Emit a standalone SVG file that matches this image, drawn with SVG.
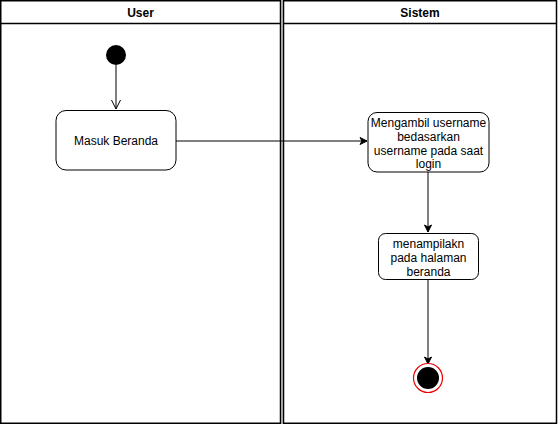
<svg xmlns="http://www.w3.org/2000/svg" width="558" height="424" viewBox="0 0 558 424">
<defs>
<style>
.lane{fill:#fff;stroke:#000;stroke-width:1.5}
.hd{font-family:"Liberation Sans",Arial,sans-serif;font-size:12px;font-weight:bold;fill:#000;text-anchor:middle}
.act{fill:#fff;stroke:#000;stroke-width:1}
.t{font-family:"Liberation Sans",Arial,sans-serif;font-size:12px;fill:#000;text-anchor:middle}
.edge{fill:none;stroke:#000;stroke-width:1}
</style>
<marker id="fa" markerWidth="10" markerHeight="10" refX="8" refY="5" orient="auto" markerUnits="userSpaceOnUse">
<path d="M1,1.5 L8,5 L1,8.5 L3,5 Z" fill="#000" stroke="#000" stroke-width="1"/>
</marker>
<marker id="oa" markerWidth="12" markerHeight="12" refX="10" refY="6" orient="auto" markerUnits="userSpaceOnUse">
<path d="M1,1.5 L10,6 L1,10.5" fill="none" stroke="#000" stroke-width="1"/>
</marker>
</defs>
<rect width="558" height="424" fill="#fff"/>
<g id="lane-user">
<rect class="lane" x="0.75" y="0.75" width="279.75" height="422.5"/>
<line x1="0.75" y1="23.5" x2="280.5" y2="23.5" stroke="#000" stroke-width="1.5"/>
<text class="hd" x="140.5" y="16.5">User</text>
</g>
<g id="lane-sistem">
<rect class="lane" x="283.5" y="0.75" width="273" height="422.5"/>
<line x1="283.5" y1="23.5" x2="556.5" y2="23.5" stroke="#000" stroke-width="1.5"/>
<text class="hd" x="420" y="16.5">Sistem</text>
</g>
<line x1="282" y1="0" x2="282" y2="424" stroke="#888" stroke-width="1"/>
<g id="connectors">
<line class="edge" x1="116" y1="65" x2="116" y2="109" stroke="#555" marker-end="url(#oa)"/>
<line class="edge" x1="176" y1="141" x2="367" y2="141" marker-end="url(#fa)"/>
<line class="edge" x1="428" y1="172" x2="428" y2="232" marker-end="url(#fa)"/>
<line class="edge" x1="428" y1="280" x2="428" y2="364" marker-end="url(#fa)"/>
</g>
<g id="start">
<circle cx="116" cy="55" r="10" fill="#000"/>
</g>
<g id="masuk-beranda">
<rect class="act" x="56" y="110.5" width="120" height="59.5" rx="10"/>
<text class="t" x="116" y="144.5">Masuk Beranda</text>
</g>
<g id="mengambil">
<rect class="act" x="368" y="112.5" width="121" height="59.5" rx="9"/>
<text class="t" x="428.5" y="127">Mengambil username</text>
<text class="t" x="428.5" y="140.5">bedasarkan</text>
<text class="t" x="428.5" y="154.5">username pada saat</text>
<text class="t" x="428.5" y="168">login</text>
</g>
<g id="menampilkan">
<rect class="act" x="378.5" y="233.5" width="100" height="46" rx="7"/>
<text class="t" x="428.5" y="247.5">menampilakn</text>
<text class="t" x="428.5" y="261.5">pada halaman</text>
<text class="t" x="428.5" y="276">beranda</text>
</g>
<g id="end">
<circle cx="428" cy="378" r="14.5" fill="#fff" stroke="#e00" stroke-width="1.2"/>
<circle cx="428" cy="378" r="11" fill="#000"/>
</g>
</svg>
